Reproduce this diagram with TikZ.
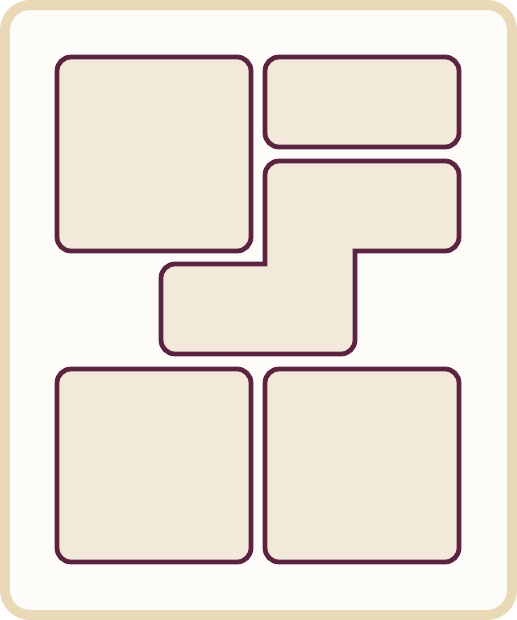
\documentclass[tikz,border=0pt]{standalone}
\usepackage{tikz}
\definecolor{frameside}{HTML}{EAD9B6}
\definecolor{paperbg}{HTML}{FEFCF8}
\definecolor{panelfill}{HTML}{F2E9DB}
\definecolor{paneledge}{HTML}{5B2340}

\begin{document}
\begin{tikzpicture}[
  x=0.02cm, y=-0.02cm,
  frame/.style={draw=frameside, line width=0.2cm, fill=paperbg,
                rounded corners=0.5cm},
  panel/.style={draw=paneledge, line width=0.095cm, fill=panelfill,
                rounded corners=0.28cm},
]
\useasboundingbox (0,0) rectangle (517,620);
% Frame
\draw[frame] (5,5) rectangle (512,615);

% Row 1
\draw[panel] (57,57) rectangle (251,251);
\draw[panel] (265,57) rectangle (459,147);

% Z piece
\draw[panel] (265,210) [rounded corners=0.28cm] -- (265,161) -- (459,161)
  -- (459,251) [sharp corners] -- (355,251) [rounded corners=0.28cm]
  -- (355,354) -- (161,354) -- (161,264) [sharp corners] -- (265,264) -- cycle;

% Row 3
\draw[panel] (57,369) rectangle (251,562);
\draw[panel] (265,369) rectangle (459,562);
\end{tikzpicture}
\end{document}
